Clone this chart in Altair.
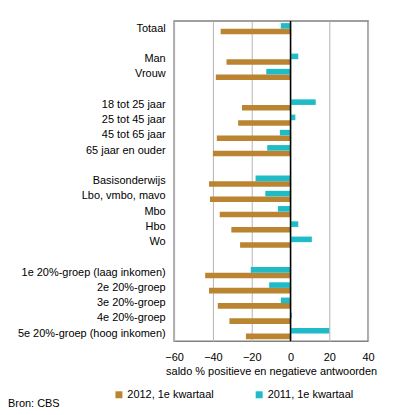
import altair as alt
import pandas as pd

categories = ["Totaal", "gap1", "Man", "Vrouw", "gap2",
              "18 tot 25 jaar", "25 tot 45 jaar", "45 tot 65 jaar", "65 jaar en ouder", "gap3",
              "Basisonderwijs", "Lbo, vmbo, mavo", "Mbo", "Hbo", "Wo", "gap4",
              "1e 20%-groep (laag inkomen)", "2e 20%-groep", "3e 20%-groep", "4e 20%-groep",
              "5e 20%-groep (hoog inkomen)"]
v2012 = [-36, None, -33, -38.5, None,
         -25, -27, -38, -40, None,
         -42, -41.5, -36.5, -30.5, -26, None,
         -44, -42, -37.5, -31.5, -23]
v2011 = [-5, None, 4, -12.5, None,
         13, 2.5, -5.5, -12, None,
         -18, -13, -6.5, 4, 11, None,
         -20.5, -11, -5, 0.7, 20]
series = ["2012, 1e kwartaal", "2011, 1e kwartaal"]
colors = ["#BA8430", "#1FBBC6"]
source_note = ["Bron: CBS"]
x_ticks = [-60, -40, -20, 0, 20, 40]

rows = []
for c, a, b in zip(categories, v2012, v2011):
    if a is not None:
        rows.append({"cat": c, "serie": series[0], "val": a})
    if b is not None:
        rows.append({"cat": c, "serie": series[1], "val": b})
df = pd.DataFrame(rows)

font = "Liberation Sans"
xscale = alt.Scale(domain=[-60, 40], nice=False)
xaxis = alt.Axis(values=x_ticks, title="saldo % positieve en negatieve antwoorden",
                 titleFontWeight="normal", titleFontSize=11, titleFont=font, titleColor="black",
                 labelFontSize=11, labelFont=font, labelColor="black", labelPadding=10,
                 labelOverlap=False, labelFlush=False,
                 titlePadding=3, ticks=False, domain=False,
                 grid=True, gridColor="#B4B4B4", gridWidth=1)

bars = alt.Chart(df).mark_bar().encode(
    y=alt.Y("cat:N", sort=categories,
            scale=alt.Scale(domain=categories, paddingInner=0.27, paddingOuter=0.14),
            axis=alt.Axis(title=None, ticks=False, domain=False, labelPadding=9,
                          labelFontSize=11, labelColor="black", labelFont=font,
                          labelExpr="indexof(datum.label, 'gap') == 0 ? '' : datum.label",
                          grid=False, labelLimit=300, labelOverlap=False)),
    yOffset=alt.YOffset("serie:N", sort=[series[1], series[0]],
                        scale=alt.Scale(domain=[series[1], series[0]], paddingInner=0, paddingOuter=0)),
    x=alt.X("val:Q", scale=xscale, axis=xaxis),
    color=alt.Color("serie:N", scale=alt.Scale(domain=series, range=colors),
                    legend=alt.Legend(title=None, orient="none", legendX=-61, legendY=370,
                                      direction="horizontal", symbolType="square", symbolSize=49,
                                      symbolStrokeWidth=0, labelFontSize=11, labelFont=font,
                                      labelColor="black", labelOffset=3, columnPadding=40)),
)

zero = alt.Chart(pd.DataFrame({"val": [0]})).mark_rule(color="black", strokeWidth=1.5).encode(
    x=alt.X("val:Q", scale=xscale, axis=xaxis))

note = alt.Chart(pd.DataFrame({"t": source_note})).mark_text(
    align="left", baseline="middle", fontSize=11, font=font, color="black"
).encode(text="t:N", x=alt.value(-167), y=alt.value(385))

chart = alt.layer(bars, zero, note).properties(
    width=195, height=322,
    autosize=alt.AutoSizeParams(type="none"),
    padding={"left": 167, "top": 12, "right": 20, "bottom": 70},
).configure_view(stroke="#808080", strokeWidth=1.5)

chart.save("out.html", embed_options={"renderer": "svg", "actions": False})
